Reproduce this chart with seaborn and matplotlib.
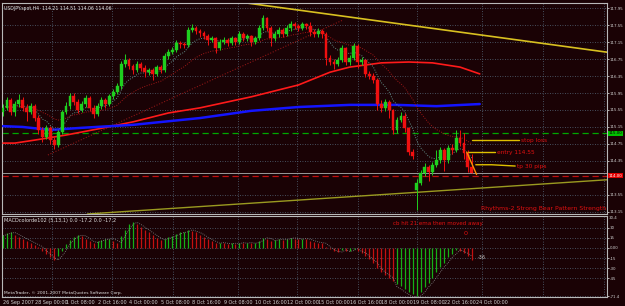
import numpy as np
import pandas as pd
import matplotlib
matplotlib.use("Agg")
import matplotlib.pyplot as plt
import seaborn as sns

# ---------------- data ----------------
opens = [115.50,115.60,115.79,115.50,115.69,115.79,115.60,115.50,115.64,115.36,
         115.08,114.91,115.13,114.84,114.73,115.03,115.50,115.64,115.88,115.74,
         115.55,115.69,115.83,115.60,115.46,115.64,115.79,115.69,115.88,115.97,
         116.11,116.63,116.73,116.59,116.49,116.63,116.54,116.44,116.49,116.40,
         116.56,116.49,116.82,116.91,116.96,117.13,117.10,117.08,117.43,117.48,
         117.41,117.36,117.29,117.20,117.24,117.01,117.15,117.20,117.13,117.24,
         117.15,117.34,117.24,117.29,117.15,117.24,117.48,117.71,117.48,117.24,
         117.34,117.43,117.34,117.48,117.57,117.53,117.48,117.57,117.53,117.39,
         117.34,117.41,117.34,116.77,116.68,116.63,116.73,117.01,116.68,116.77,
         117.06,116.68,116.73,116.40,116.35,116.26,115.69,115.60,115.74,115.55,
         115.08,115.31,115.41,115.13,114.56,113.67,113.83,114.07,114.21,114.09,
         114.26,114.37,114.61,114.37,114.66,114.61,114.89,114.77,114.54,114.21]
closes = [115.60,115.79,115.50,115.69,115.79,115.60,115.50,115.64,115.36,115.08,
          114.91,115.13,114.84,114.73,115.03,115.50,115.64,115.88,115.74,115.55,
          115.69,115.83,115.60,115.46,115.64,115.79,115.69,115.88,115.97,116.11,
          116.63,116.73,116.59,116.49,116.63,116.54,116.44,116.49,116.40,116.56,
          116.49,116.82,116.91,116.96,117.13,117.10,117.08,117.43,117.48,117.41,
          117.36,117.29,117.20,117.24,117.01,117.15,117.20,117.13,117.24,117.15,
          117.34,117.24,117.29,117.15,117.24,117.48,117.71,117.48,117.24,117.34,
          117.43,117.34,117.48,117.57,117.53,117.48,117.57,117.53,117.39,117.34,
          117.41,117.34,116.77,116.68,116.63,116.73,117.01,116.68,116.77,117.06,
          116.68,116.73,116.40,116.35,116.26,115.69,115.60,115.74,115.55,115.08,
          115.31,115.41,115.13,114.56,114.47,113.83,114.07,114.21,114.09,114.26,
          114.37,114.61,114.37,114.66,114.61,114.89,114.77,114.54,114.21,114.06]
highs = [115.70,115.86,115.84,115.75,115.92,115.85,115.68,115.72,115.70,115.44,
         115.15,115.20,115.18,114.92,115.08,115.56,115.74,115.95,115.96,115.80,
         115.76,115.90,115.88,115.66,115.72,115.86,115.84,115.93,116.05,116.18,
         116.70,116.86,116.78,116.64,116.70,116.68,116.60,116.55,116.54,116.62,
         116.60,116.90,116.98,117.04,117.20,117.18,117.15,117.50,117.58,117.52,
         117.46,117.40,117.34,117.30,117.28,117.22,117.26,117.25,117.30,117.28,
         117.40,117.38,117.35,117.32,117.30,117.55,117.78,117.74,117.52,117.40,
         117.50,117.48,117.55,117.64,117.62,117.58,117.63,117.60,117.62,117.46,
         117.47,117.46,117.38,116.84,116.74,116.80,117.08,117.04,116.84,117.12,
         117.10,116.80,116.76,116.46,116.42,116.30,115.78,115.80,115.78,115.58,
         115.38,115.50,115.48,115.16,114.62,113.92,114.14,114.30,114.25,114.32,
         114.60,114.68,114.66,114.72,114.75,115.08,115.08,115.00,114.60,114.51]
lows = [115.42,115.55,115.44,115.40,115.62,115.52,115.30,115.45,115.30,114.98,
        114.80,114.86,114.76,114.62,114.68,114.98,115.45,115.58,115.66,115.48,
        115.50,115.62,115.52,115.36,115.40,115.58,115.60,115.64,115.82,115.92,
        116.05,116.56,116.52,116.40,116.44,116.46,116.32,116.38,116.25,116.36,
        116.42,116.45,116.76,116.86,116.92,117.02,117.00,117.04,117.38,117.35,
        117.28,117.22,117.08,117.14,116.90,116.96,117.10,117.06,117.08,117.08,
        117.10,117.18,117.18,117.06,117.10,117.20,117.44,117.40,117.05,117.18,
        117.28,117.26,117.30,117.42,117.46,117.40,117.44,117.46,117.30,117.26,
        117.28,117.25,116.60,116.60,116.52,116.58,116.68,116.62,116.62,116.72,
        116.55,116.60,116.32,116.28,116.18,115.55,115.50,115.52,115.35,114.98,
        115.00,115.26,115.04,114.48,114.40,113.20,113.78,114.00,113.88,114.02,
        114.20,114.30,114.12,114.30,114.52,114.56,114.70,114.40,114.10,114.06]

macd = [20,22,23,20,17,14,11,8,5,2,-4,-9,-14,-18,-12,-4,6,12,17,19,
        18,14,10,8,10,12,13,14,11,8,18,27,35,38,35,31,27,23,19,15,
        12,14,16,18,21,23,24,27,25,23,20,16,13,10,7,8,7,6,7,6,
        8,7,8,7,8,11,15,14,11,12,13,12,14,15,14,13,14,13,11,9,
        8,7,2,-2,-5,-6,-3,-5,-4,-1,-5,-7,-12,-17,-22,-30,-36,-40,-44,-49,
        -54,-57,-61,-66,-69,-71.4,-66,-58,-52,-44,-36,-28,-22,-14,-9,-3,-5,-8,-12,-17.2]
signal = [18,20,22,23,20,17,14,11,8,5,2,-4,-9,-14,-18,-12,-4,6,12,17,
          19,18,14,10,8,10,12,13,14,11,8,18,27,35,38,35,31,27,23,19,
          15,12,14,16,18,21,23,24,27,25,23,20,16,13,10,7,8,7,6,7,
          6,8,7,8,7,8,11,15,14,11,12,13,12,14,15,14,13,14,13,11,
          9,8,7,2,-2,-5,-6,-3,-5,-4,-1,-5,-7,-12,-17,-22,-30,-36,-40,-44,
          -58,-61,-65,-69,-72,-72.5,-71.4,-66,-58,-52,-44,-36,-28,-22,-14,-9,-3,-5,-8,-12]

# slow moving averages read at sample bars
ma_red_bars = [0,3,8,16,25,33,42,50,63,75,83,88,96,103,109,116,121]
ma_red_vals = [114.77,114.77,114.84,114.96,115.12,115.27,115.48,115.60,115.86,116.14,
               116.44,116.56,116.66,116.68,116.66,116.56,116.40]
ma_blue_bars = [0,5,12,20,33,50,63,75,88,100,110,121]
ma_blue_vals = [115.17,115.15,115.08,115.13,115.20,115.36,115.53,115.62,115.67,115.67,115.64,115.69]

# trend lines (anchor bar, price)
top_trend = [(80, 117.84), (140, 117.08)]
low_trend = [(75.4, 113.43), (126.1, 113.74)]
chan_trend = [(11.4, 114.49), (86.3, 117.67)]

level_green = 115.00
level_red = 114.00
bid = 114.06
stop_loss, entry, take_profit = 114.84, 114.56, 114.26

price_ticks = [117.95,117.55,117.15,116.75,116.35,115.95,115.55,115.15,114.75,114.35,113.55,113.15]
macd_ticks = [30,15,0,-15,-30,-45,-71.4]
macd_tick_labels = ["30","15","0.00","-15","-30","-45","-71.4"]
time_label_bars = [0,8,16,24,32,40,48,56,64,72,80,88,96,104,112,120]
time_labels = ["26 Sep 2007","28 Sep 00:00","1 Oct 08:00","2 Oct 16:00","4 Oct 00:00",
               "5 Oct 08:00","8 Oct 16:00","9 Oct 08:00","10 Oct 16:00","12 Oct 00:00",
               "15 Oct 00:00","16 Oct 16:00","18 Oct 00:00","19 Oct 08:00","22 Oct 16:00",
               "24 Oct 00:00"]
vgrid_bars = [12.4,27.7,43.2,59.6,74.6,90.1,105.1,121.6,137.0,152.5]

# ---------------- style ----------------
sns.set_style("dark")
plt.rcParams["font.family"] = ["DejaVu Sans"]
BG = "#1a0205"
GRID = "#55687a"
TXT = "#d0d0d0"
UP = "#1fd01f"
DN = "#f01010"
AX_FS = 3.5
Y_FS = 2.9

W, H = 625, 306
def rect(x0, y0, x1, y1):
    return [x0 / W, 1 - y1 / H, (x1 - x0) / W, (y1 - y0) / H]

fig = plt.figure(figsize=(6.25, 3.06), dpi=100, facecolor=BG)
ax = fig.add_axes(rect(2, 3, 607, 214))
ax2 = fig.add_axes(rect(2, 216, 607, 297))

df = pd.DataFrame({"o": opens, "h": highs, "l": lows, "c": closes})
df["bar"] = np.arange(len(df))
df["up"] = df["c"] >= df["o"]

for a in (ax, ax2):
    a.set_facecolor(BG)
    for s in a.spines.values():
        s.set_color("#b8b8b8")
        s.set_linewidth(0.8)
    a.set_xlim(-0.25, 153.3)
    for g in vgrid_bars:
        a.axvline(g, color=GRID, lw=0.6, ls=(0, (1, 2)), zorder=0)

ax.set_ylim(113.10, 118.07)
for t in price_ticks:
    ax.axhline(t, color=GRID, lw=0.6, ls=(0, (1, 2)), zorder=0)

# horizontal levels
ax.axhline(level_green, color="#00a800", lw=0.9, ls=(0, (5, 3)), zorder=1)
ax.axhline(bid, color="#9a9a9a", lw=0.7, zorder=1)
ax.axhline(level_red, color="#c01010", lw=0.9, ls=(0, (5, 3)), zorder=1)

# trend lines
ax.axline(top_trend[0], top_trend[1], color="#d8c020", lw=1.2, zorder=2)
ax.axline(low_trend[0], low_trend[1], color="#9a9a20", lw=1.0, zorder=2)
ax.plot([chan_trend[0][0], chan_trend[1][0]], [chan_trend[0][1], chan_trend[1][1]],
        color="#8a1515", lw=0.8, ls=(0, (1, 1.5)), zorder=2)

# moving averages
sns.lineplot(x=ma_red_bars, y=ma_red_vals, ax=ax, color="#ff1a1a", lw=1.2, zorder=3)
sns.lineplot(x=ma_blue_bars, y=ma_blue_vals, ax=ax, color="#1414ff", lw=1.8, zorder=3)
ema_fast = df["c"].ewm(span=8, adjust=False).mean()
ema_slow = df["c"].ewm(span=21, adjust=False).mean()
sns.lineplot(x=df["bar"], y=ema_fast, ax=ax, color="#5f8a84", lw=0.7, ls=(0, (1, 1.5)), zorder=3)
sns.lineplot(x=df["bar"], y=ema_slow, ax=ax, color="#a01818", lw=0.7, ls=(0, (1, 1.5)), zorder=3)

# candles
cols = np.where(df["up"], UP, DN)
ax.vlines(df["bar"], df["l"], df["h"], colors=cols, lw=0.7, zorder=4)
body = (df["c"] - df["o"]).where(lambda s: s.abs() > 0.015, 0.015)
ax.bar(df["bar"], body, bottom=df["o"], width=0.72, color=cols, edgecolor=cols, lw=0.3, zorder=5)

# trade markings
n = len(df)
ax.plot([n - 1, n + 11], [stop_loss, stop_loss], color="#e0c000", lw=1.0, zorder=4)
ax.plot([n - 2, n + 5], [entry, entry], color="#e0c000", lw=1.0, zorder=4)
ax.plot([n, n + 4, n + 10], [take_profit, take_profit, take_profit - 0.03], color="#e0c000", lw=1.0, zorder=4)
ax.plot([n - 2.3, n + 0.2], [entry, bid - 0.03], color="#ff8c00", lw=1.0, zorder=6)
ax.text(n + 11.5, stop_loss, "stop loss", color="#e01010", fontsize=4.2, va="center", ha="left")
ax.text(n + 5.5, entry, "entry 114.55", color="#e01010", fontsize=4.2, va="center", ha="left")
ax.text(n + 10.5, take_profit - 0.04, "tp 30 pips", color="#e01010", fontsize=4.2, va="center", ha="left")
ax.text(0.999, 0.015, "Rhythms-2 Strong Bear Pattern Strength", transform=ax.transAxes,
        color="#e01010", fontsize=4.4, ha="right", va="bottom")
ax.text(0.004, 0.985, "USDJPY.spot,H4  114.21 114.51 114.06 114.06", transform=ax.transAxes,
        color="#e8e8e8", fontsize=3.3, ha="left", va="top")

# price axis
ax.yaxis.tick_right()
ax.set_yticks(price_ticks)
ax.set_yticklabels([f"{t:.2f}" for t in price_ticks])
ax.tick_params(axis="y", colors=TXT, labelsize=Y_FS, length=1.2, width=0.6, pad=0.6)
ax.tick_params(axis="x", length=0, labelbottom=False)
ax.text(1.0025, level_green, "115.00", transform=ax.get_yaxis_transform(), color="black",
        fontsize=Y_FS, va="center", ha="left",
        bbox=dict(boxstyle="square,pad=0.15", fc="#00c000", ec="none"))
ax.text(1.0025, level_red, "114.00", transform=ax.get_yaxis_transform(), color="white",
        fontsize=Y_FS, va="center", ha="left",
        bbox=dict(boxstyle="square,pad=0.15", fc="#e00000", ec="none"))
ax.set_xlabel("")
ax.set_ylabel("")

# ---------------- MACD panel ----------------
ax2.set_ylim(-72.8, 47.5)
for t in macd_ticks:
    ax2.axhline(t, color=GRID, lw=0.6, ls=(0, (1, 2)), zorder=0)
mdf = pd.DataFrame({"bar": np.arange(len(macd)), "macd": macd, "sig": signal})
mcols = np.where(mdf["macd"] > mdf["sig"], "#16b016", "#c41010")
ax2.vlines(mdf["bar"], 0, mdf["macd"], colors=mcols, lw=0.9, zorder=3)
sns.lineplot(data=mdf, x="bar", y="sig", ax=ax2, color="#8a8a8a", lw=0.6, ls=(0, (1, 1.5)), zorder=4)
ax2.yaxis.tick_right()
ax2.set_yticks(macd_ticks)
ax2.set_yticklabels(macd_tick_labels)
ax2.tick_params(axis="y", colors=TXT, labelsize=Y_FS, length=1.2, width=0.6, pad=0.6)
ax2.set_xticks(time_label_bars)
ax2.set_xticklabels(time_labels, ha="left")
ax2.tick_params(axis="x", colors=TXT, labelsize=AX_FS, length=1.5, width=0.6, pad=0.8)
ax2.set_xlabel("")
ax2.set_ylabel("")
ax2.text(0.004, 0.97, "MACDcolorde102 (5,13,1) 0.0 -17.2 0.0 -17.2", transform=ax2.transAxes,
         color="#e0e0e0", fontsize=3.6, ha="left", va="top")
ax2.text(0.004, 0.03, "MetaTrader, \u00a9 2001-2007 MetaQuotes Software Corp.", transform=ax2.transAxes,
         color="#e0e0e0", fontsize=3.2, ha="left", va="bottom")
ax2.text(99, 36, "cb hit 21 ema then moved away", color="#e01010", fontsize=4.0, ha="left", va="center")
ax2.text(117, 22, "0", color="#e01010", fontsize=4.6, ha="left", va="center")
ax2.text(120.5, -14, "-36", color="#c8c8c8", fontsize=AX_FS, ha="left", va="center")
ax2.text(1.0025, 1.0, "30.4", transform=ax2.transAxes, color=TXT, fontsize=Y_FS, ha="left", va="top")

fig.savefig("out.png", dpi=100, facecolor=BG)
